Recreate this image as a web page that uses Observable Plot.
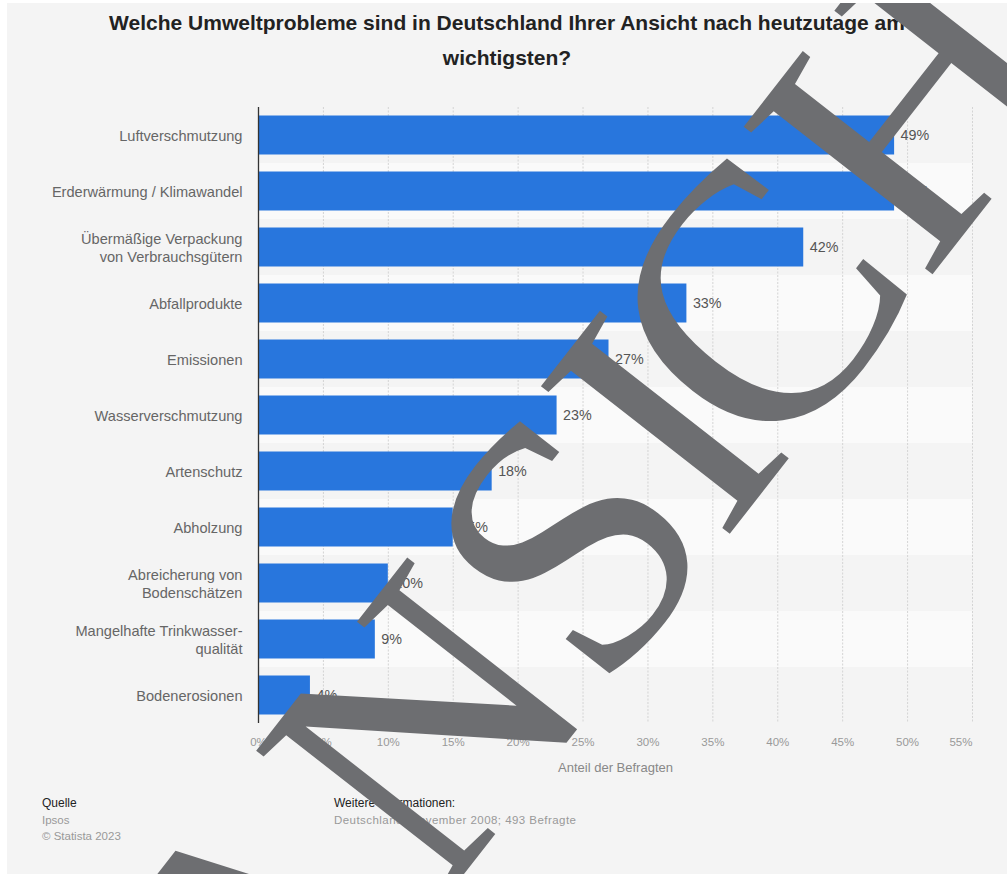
<!DOCTYPE html>
<html><head><meta charset="utf-8">
<script src="https://cdn.jsdelivr.net/npm/d3@7"></script>
<script src="https://cdn.jsdelivr.net/npm/@observablehq/plot@0.6"></script>
<style>
body{margin:0;background:#fff;font-family:"Liberation Sans",Arial,Helvetica,sans-serif;}
#page{position:absolute;left:7px;top:3px;width:1000px;height:871px;background:#f4f4f4;overflow:hidden}
#title{position:absolute;left:0;top:2px;width:1000px;text-align:center;font-weight:bold;font-size:21px;line-height:35px;color:#222}
#chart{position:absolute;left:0;top:87px}
.foot{position:absolute;top:792px;font-size:11.5px;line-height:16.5px;color:#999}
.foot b{font-weight:normal;color:#222;font-size:12px}
#wm{position:absolute;left:0;top:0;pointer-events:none}
</style></head><body>
<div id="page">
  <div id="title">Welche Umweltprobleme sind in Deutschland Ihrer Ansicht nach heutzutage am<br>wichtigsten?</div>
  <div id="chart"></div>
  <div class="foot" style="left:35px"><b>Quelle</b><br>Ipsos<br>© Statista 2023</div>
  <div class="foot" style="left:327px"><b>Weitere Informationen:</b><br><span style="letter-spacing:0.45px">Deutschland; November 2008; 493 Befragte</span></div>
  <svg id="wm" width="1000" height="871"><text x="-36" y="487" transform="rotate(-52 757 487)" text-anchor="start" font-family="Liberation Serif, Times New Roman, serif" font-size="366" fill="#6d6e71">ANS<tspan dx="-8">I</tspan><tspan dx="-34">CHT</tspan></text></svg>
</div>
<script>
const categories = [
  "Luftverschmutzung",
  "Erderwärmung / Klimawandel",
  "Übermäßige Verpackung von Verbrauchsgütern",
  "Abfallprodukte",
  "Emissionen",
  "Wasserverschmutzung",
  "Artenschutz",
  "Abholzung",
  "Abreicherung von Bodenschätzen",
  "Mangelhafte Trinkwasserqualität",
  "Bodenerosionen"
];
const labelLines = [
  "Luftverschmutzung",
  "Erderwärmung / Klimawandel",
  "Übermäßige Verpackung\nvon Verbrauchsgütern",
  "Abfallprodukte",
  "Emissionen",
  "Wasserverschmutzung",
  "Artenschutz",
  "Abholzung",
  "Abreicherung von\nBodenschätzen",
  "Mangelhafte Trinkwasser-\nqualität",
  "Bodenerosionen"
];
const values = [49, 49, 42, 33, 27, 23, 18, 15, 10, 9, 4];
const xTicks = [0, 5, 10, 15, 20, 25, 30, 35, 40, 45, 50, 55];
const axisTitle = "Anteil der Befragten";

const data = categories.map((c, i) => ({cat: c, label: labelLines[i], value: values[i], idx: i}));
const xMax = xTicks[xTicks.length - 1];

const chart = Plot.plot({
  width: 1000,
  height: 703,
  marginLeft: 251,
  marginRight: 35,
  marginTop: 17,
  marginBottom: 70,
  style: {fontFamily: "Liberation Sans, Arial, sans-serif", background: "transparent", overflow: "visible"},
  x: {domain: [0, xMax], axis: null},
  y: {domain: categories, padding: 0, axis: null},
  marks: [
    Plot.barX(data, {x1: 0, x2: xMax, y: "cat", fill: d => d.idx % 2 ? "#fafafa" : "#f4f4f4"}),
    Plot.ruleX(xTicks.slice(1), {stroke: "#d4d4d4", strokeWidth: 1, strokeDasharray: "2,1.5"}),
    Plot.barX(data, {x: "value", y: "cat", fill: "#2876dd", insetTop: 8.5, insetBottom: 8.5}),
    Plot.ruleX([0], {stroke: "#333", strokeWidth: 1.3}),
    Plot.text(data, {x: "value", y: "cat", text: d => d.value + "%", textAnchor: "start", dx: 6, fill: "#555", fontSize: 14.3}),
    Plot.text(data, {x: 0, y: "cat", text: "label", textAnchor: "end", dx: -16, fill: "#666", fontSize: 14.6, lineHeight: 1.23}),
    Plot.text(xTicks.slice(0, -1), {x: d => d, text: d => d + "%", frameAnchor: "bottom", dy: 22, fill: "#999", fontSize: 11.5}),
    Plot.text(xTicks.slice(-1), {x: d => d, text: d => d + "%", frameAnchor: "bottom", dy: 22, textAnchor: "end", fill: "#999", fontSize: 11.5}),
    Plot.text([axisTitle], {frameAnchor: "bottom", dy: 48, text: d => d, fill: "#888", fontSize: 13})
  ]
});
document.getElementById("chart").appendChild(chart);
</script>
</body></html>
